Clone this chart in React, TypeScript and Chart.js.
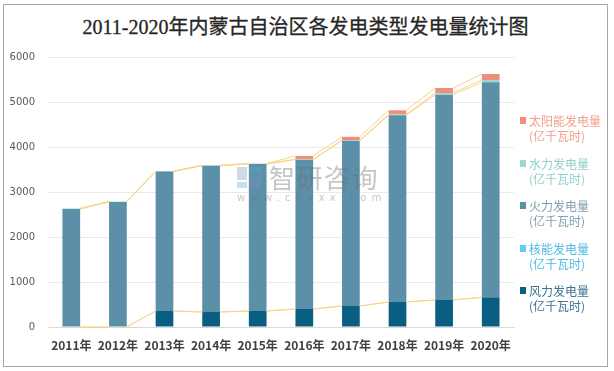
import React, { useEffect, useRef } from "react";
import { Chart, registerables } from "chart.js";

Chart.register(...registerables);

const years = ["2011年", "2012年", "2013年", "2014年", "2015年", "2016年", "2017年", "2018年", "2019年", "2020年"];
const windValues = [0, 0, 356, 333, 356, 400, 467, 556, 600, 660];
const nuclearValues = [0, 0, 0, 0, 0, 0, 0, 0, 0, 0];
const thermalValues = [2620, 2780, 3097, 3250, 3266, 3319, 3673, 4148, 4563, 4777];
const hydroValues = [15, 10, 10, 10, 10, 10, 12, 22, 37, 52];
const solarValues = [0, 0, 0, 0, 0, 74, 74, 89, 111, 133];
const yTicks = [0, 1000, 2000, 3000, 4000, 5000, 6000];

const seriesNames = ["风力发电量", "核能发电量", "火力发电量", "水力发电量", "太阳能发电量"];
const unitText = "(亿千瓦时)";
const colors = ["#0A5E82", "#66CBEF", "#5C8FA8", "#9FD8D3", "#EE8F78"];
const legendTextColors = ["#3f7391", "#4cbbe6", "#7f9eb1", "#8fd0cb", "#f2a08b"];

const seriesLinesPlugin = {
  id: "seriesLines",
  afterDatasetsDraw(chart: any) {
    const ctx = chart.ctx;
    ctx.save();
    ctx.strokeStyle = "#F7D48C";
    ctx.lineWidth = 1;
    chart.data.datasets.forEach((_: any, d: number) => {
      const meta = chart.getDatasetMeta(d);
      for (let i = 0; i < meta.data.length - 1; i++) {
        const a = meta.data[i];
        const b = meta.data[i + 1];
        ctx.beginPath();
        ctx.moveTo(a.x + a.width / 2, a.y);
        ctx.lineTo(b.x - b.width / 2, b.y);
        ctx.stroke();
      }
    });
    ctx.restore();
  },
};

export default function App() {
  const ref = useRef<HTMLCanvasElement>(null);
  useEffect(() => {
    const values = [windValues, nuclearValues, thermalValues, hydroValues, solarValues];
    const chart = new Chart(ref.current as HTMLCanvasElement, {
      type: "bar",
      data: {
        labels: years,
        datasets: values.map((v, i) => ({
          label: seriesNames[i],
          data: v,
          backgroundColor: colors[i],
          borderWidth: 0,
          categoryPercentage: 1,
          barPercentage: 0.38,
        })),
      },
      options: {
        animation: false,
        responsive: false,
        maintainAspectRatio: false,
        layout: { padding: { left: 0, top: 57, right: 100, bottom: 0 } },
        plugins: {
          legend: { display: false },
          title: { display: false },
          tooltip: { enabled: false },
        },
        scales: {
          x: {
            stacked: true,
            grid: { display: false, drawTicks: false },
            border: { display: true, color: "#D9D9D9", width: 1 },
            ticks: {
              padding: 11,
              color: "#404040",
              font: { family: '"Noto Sans CJK SC", "DejaVu Sans", sans-serif', size: 12, weight: "bold" },
              maxRotation: 0,
              autoSkip: false,
            },
            afterFit: (s: any) => {
              s.height = 44;
            },
          },
          y: {
            stacked: true,
            min: 0,
            max: 6000,
            afterBuildTicks: (s: any) => {
              s.ticks = yTicks.map((v) => ({ value: v }));
            },
            grid: { color: "#EAEAEA", drawTicks: false, lineWidth: 1 },
            border: { display: false },
            ticks: {
              padding: 13,
              color: "#595959",
              font: { family: '"DejaVu Sans", sans-serif', size: 10 },
              callback: (v: any) => String(v),
            },
            afterFit: (s: any) => {
              s.width = 48;
            },
          },
        },
      },
      plugins: [seriesLinesPlugin],
    });
    return () => chart.destroy();
  }, []);

  const legendOrder = [4, 3, 2, 1, 0];
  const cjk = '"Noto Sans CJK SC", sans-serif';

  return (
    <div style={{ position: "absolute", left: 0, top: 0, width: 614, height: 371, background: "#fff", overflow: "hidden" }}>
      <div style={{ position: "absolute", left: 3, top: 4, width: 603, height: 361, border: "1px solid #A6A6A6" }} />
      <div
        style={{
          position: "absolute",
          left: 0,
          width: 611,
          top: 14,
          textAlign: "center",
          fontFamily: '"Liberation Serif", "Noto Sans CJK SC", serif',
          fontSize: 20,
          fontWeight: "normal",
          color: "#262626",
          lineHeight: "26px",
          WebkitTextStroke: "0.3px #262626",
        }}
      >
        2011-2020年内蒙古自治区各发电类型发电量统计图
      </div>
      <canvas ref={ref} width={614} height={371} style={{ position: "absolute", left: 0, top: 0 }} />
      {/* watermark */}
      <div style={{ position: "absolute", left: 237, top: 167, width: 24, height: 21, opacity: 0.35 }}>
        <div style={{ position: "absolute", left: 0, top: 0, width: 10, height: 13, background: "#7a93b8" }} />
        <div style={{ position: "absolute", left: 12, top: 0, width: 12, height: 6, background: "#5ea3d8" }} />
        <div style={{ position: "absolute", left: 12, top: 8, width: 12, height: 13, background: "#7a93b8" }} />
        <div style={{ position: "absolute", left: 0, top: 15, width: 10, height: 6, background: "#5ea3d8" }} />
      </div>
      <div
        style={{
          position: "absolute",
          left: 269,
          top: 160,
          fontFamily: cjk,
          fontSize: 26,
          letterSpacing: 1.5,
          color: "rgba(110,110,110,0.4)",
          lineHeight: "34px",
          whiteSpace: "nowrap",
        }}
      >
        智研咨询
      </div>
      <div
        style={{
          position: "absolute",
          left: 237,
          top: 191,
          fontFamily: '"DejaVu Sans", sans-serif',
          fontSize: 10,
          letterSpacing: 5.3,
          color: "rgba(110,110,110,0.4)",
          lineHeight: "14px",
          whiteSpace: "nowrap",
        }}
      >
        www.chyxx.com
      </div>
      {/* legend */}
      {legendOrder.map((idx, k) => (
        <div key={idx} style={{ position: "absolute", left: 520, top: 113 + k * 42.5, fontFamily: cjk, fontSize: 12, lineHeight: "15px", color: legendTextColors[idx] }}>
          <div style={{ position: "absolute", left: 0, top: 4, width: 6, height: 7, background: colors[idx] }} />
          <div style={{ position: "absolute", left: 9, top: 0, whiteSpace: "nowrap" }}>{seriesNames[idx]}</div>
          <div style={{ position: "absolute", left: 9, top: 15, whiteSpace: "nowrap" }}>{unitText}</div>
        </div>
      ))}
    </div>
  );
}
